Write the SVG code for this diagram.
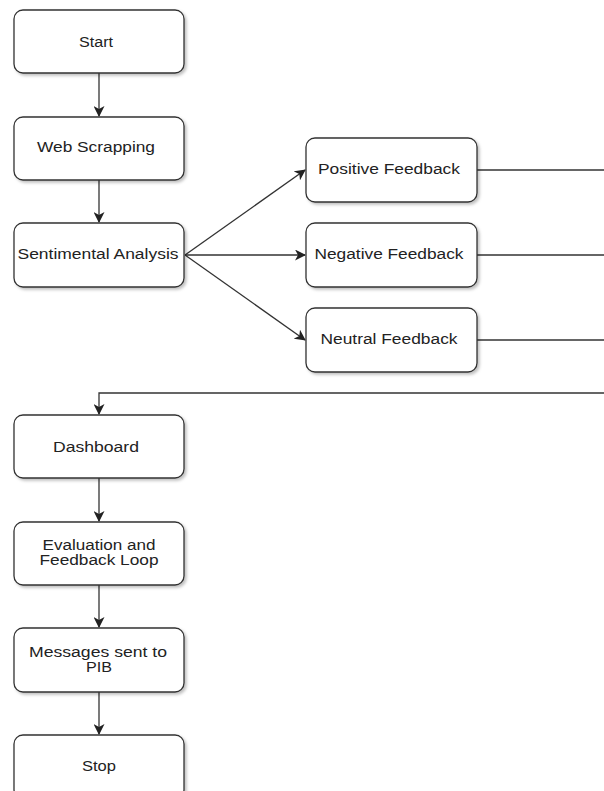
<svg xmlns="http://www.w3.org/2000/svg" width="604" height="791" viewBox="0 0 604 791">
<defs>
<marker id="ah" markerWidth="11" markerHeight="11" refX="10" refY="5.5" orient="auto" markerUnits="userSpaceOnUse">
<path d="M0,0 L11,5.5 L0,11 L3,5.5 Z" fill="#222"/>
</marker>
<filter id="sh" x="-10%" y="-10%" width="130%" height="140%">
<feDropShadow dx="2" dy="2" stdDeviation="1.5" flood-color="#000" flood-opacity="0.25"/>
</filter>
</defs>
<style>
.box{fill:#fff;stroke:#333;stroke-width:1.3;filter:url(#sh)}
.t{font-family:"Liberation Sans",Arial,sans-serif;font-size:14px;fill:#222;text-anchor:middle}
.c{fill:none;stroke:#333;stroke-width:1.3}
</style>
<rect width="604" height="791" fill="#fff"/>
<g id="connectors">
<line class="c" x1="99" y1="73" x2="99" y2="116" marker-end="url(#ah)"/>
<line class="c" x1="99" y1="180" x2="99" y2="222" marker-end="url(#ah)"/>
<line class="c" x1="185" y1="255" x2="305" y2="170" marker-end="url(#ah)"/>
<line class="c" x1="185" y1="255" x2="305" y2="255" marker-end="url(#ah)"/>
<line class="c" x1="185" y1="255" x2="305" y2="340" marker-end="url(#ah)"/>
<line class="c" x1="477" y1="170" x2="604" y2="170"/>
<line class="c" x1="477" y1="255" x2="604" y2="255"/>
<line class="c" x1="477" y1="340" x2="604" y2="340"/>
<polyline class="c" points="604,393 99,393 99,414" marker-end="url(#ah)"/>
<line class="c" x1="99" y1="478" x2="99" y2="521" marker-end="url(#ah)"/>
<line class="c" x1="99" y1="585" x2="99" y2="627" marker-end="url(#ah)"/>
<line class="c" x1="99" y1="692" x2="99" y2="734" marker-end="url(#ah)"/>
</g>
<g id="start"><rect class="box" x="14" y="10" width="170" height="63" rx="9"/><text class="t" x="96" y="47" textLength="34" lengthAdjust="spacingAndGlyphs">Start</text></g>
<g id="web"><rect class="box" x="14" y="117" width="170" height="63" rx="9"/><text class="t" x="96" y="152" textLength="118" lengthAdjust="spacingAndGlyphs">Web Scrapping</text></g>
<g id="sentiment"><rect class="box" x="14" y="223" width="170" height="64" rx="9"/><text class="t" x="98" y="259" textLength="161" lengthAdjust="spacingAndGlyphs">Sentimental Analysis</text></g>
<g id="positive"><rect class="box" x="306" y="138" width="171" height="64" rx="9"/><text class="t" x="389" y="174" textLength="142" lengthAdjust="spacingAndGlyphs">Positive Feedback</text></g>
<g id="negative"><rect class="box" x="306" y="223" width="171" height="64" rx="9"/><text class="t" x="389" y="259" textLength="149" lengthAdjust="spacingAndGlyphs">Negative Feedback</text></g>
<g id="neutral"><rect class="box" x="306" y="308" width="171" height="64" rx="9"/><text class="t" x="389" y="344" textLength="137" lengthAdjust="spacingAndGlyphs">Neutral Feedback</text></g>
<g id="dashboard"><rect class="box" x="14" y="415" width="170" height="63" rx="9"/><text class="t" x="96" y="452" textLength="86" lengthAdjust="spacingAndGlyphs">Dashboard</text></g>
<g id="evaluation"><rect class="box" x="14" y="522" width="170" height="63" rx="9"/><text class="t" x="99" y="550" textLength="113" lengthAdjust="spacingAndGlyphs">Evaluation and</text><text class="t" x="99" y="565" textLength="119" lengthAdjust="spacingAndGlyphs">Feedback Loop</text></g>
<g id="messages"><rect class="box" x="14" y="628" width="170" height="64" rx="9"/><text class="t" x="98" y="657" textLength="138" lengthAdjust="spacingAndGlyphs">Messages sent to</text><text class="t" x="99" y="672" textLength="26" lengthAdjust="spacingAndGlyphs">PIB</text></g>
<g id="stop"><rect class="box" x="14" y="735" width="170" height="64" rx="9"/><text class="t" x="99" y="771" textLength="34" lengthAdjust="spacingAndGlyphs">Stop</text></g>
</svg>
